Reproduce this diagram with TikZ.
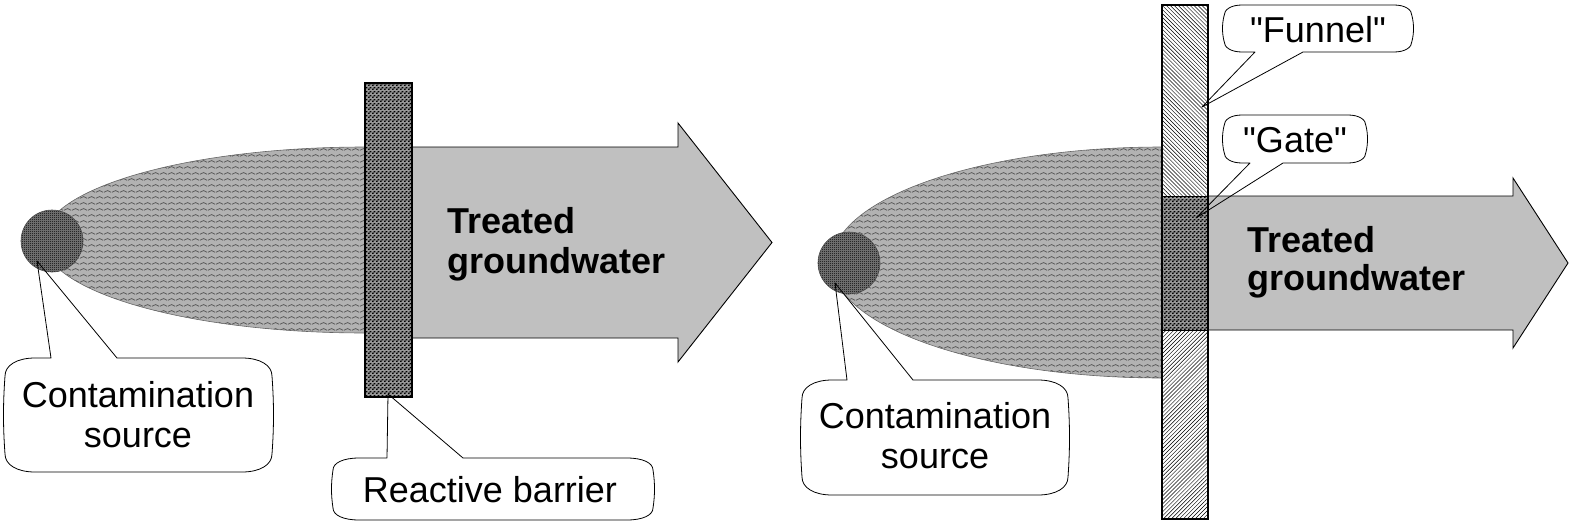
\documentclass[tikz,border=0pt]{standalone}
\usepackage{fontspec}
\setmainfont{Liberation Sans}[Ligatures=TeXOff]
\usetikzlibrary{patterns,patterns.meta}

\definecolor{silver}{RGB}{192,192,192}
\definecolor{plumebg}{RGB}{178,178,178}
\definecolor{plumefg}{RGB}{92,92,92}
\definecolor{barbg}{RGB}{150,150,150}
\definecolor{srcbg}{RGB}{112,112,112}

\pgfdeclarepattern{
  name=wavy, type=uncolored,
  bottom left={\pgfpointorigin}, top right={\pgfpoint{8pt}{6pt}},
  tile size={\pgfpoint{8pt}{6pt}},
  code={\pgfsetlinewidth{0.9pt}
    \pgfpathmoveto{\pgfpoint{0pt}{2pt}}
    \pgfpathlineto{\pgfpoint{4pt}{4pt}}
    \pgfpathlineto{\pgfpoint{8pt}{2pt}}
    \pgfusepath{stroke}}}
\pgfdeclarepattern{
  name=bdots, type=uncolored,
  bottom left={\pgfpointorigin}, top right={\pgfpoint{4pt}{4pt}},
  tile size={\pgfpoint{4pt}{4pt}},
  code={\pgfpathrectangle{\pgfpointorigin}{\pgfpoint{2pt}{1.6pt}}
    \pgfpathrectangle{\pgfpoint{2pt}{2pt}}{\pgfpoint{2pt}{1.6pt}}
    \pgfusepath{fill}}}
\pgfdeclarepattern{
  name=checker, type=uncolored,
  bottom left={\pgfpointorigin}, top right={\pgfpoint{2pt}{2pt}},
  tile size={\pgfpoint{2pt}{2pt}},
  code={\pgfpathrectangle{\pgfpointorigin}{\pgfpoint{1pt}{1pt}}
    \pgfpathrectangle{\pgfpoint{1pt}{1pt}}{\pgfpoint{0.6pt}{0.6pt}}
    \pgfusepath{fill}}}

\tikzset{
  flowarrow/.style={draw=black, line width=0.9pt, fill=silver},
  plume/.style={preaction={fill=plumebg}, pattern=wavy, pattern color=plumefg},
  plumeedge/.style={draw=black!60, line width=0.6pt},
  barrier/.style={preaction={fill=barbg}, pattern=bdots, pattern color=black},
  srcdisk/.style={preaction={fill=srcbg}, pattern=checker, pattern color=black},
  funnelup/.style={preaction={fill=white}, pattern={Lines[angle=-45,distance=2.8pt,line width=0.45pt]}, pattern color=black},
  funneldn/.style={preaction={fill=white}, pattern={Lines[angle=45,distance=2.8pt,line width=0.45pt]}, pattern color=black},
  calloutline/.style={draw=black, line width=0.8pt, line join=round},
  lbl/.style={inner sep=0pt, anchor=base, font=\fontsize{36}{40}\selectfont},
  boldlbl/.style={inner sep=0pt, anchor=base west, font=\fontsize{36}{40}\selectfont\bfseries},
}

% pointer on the top edge
% #1 x0, #2 y0, #3 x1, #4 y1, #5 base a, #6 base b, #7 tip, #8 rx, #9 ry
\newcommand\callshape[9]{%
  \draw[calloutline] (#5,#2) -- (#7) -- (#6,#2) -- ({#3-#8},#2)
    .. controls ({#3-0.4*#8},#2) and (#3,{#2+0.4*#9}) .. (#3,{#2+#9})
    .. controls ({#3+2},{#2+0.4*(#4-#2)}) and ({#3+2},{#4-0.4*(#4-#2)}) .. (#3,{#4-#9})
    .. controls (#3,{#4-0.4*#9}) and ({#3-0.4*#8},#4) .. ({#3-#8},#4)
    -- ({#1+#8},#4)
    .. controls ({#1+0.4*#8},#4) and (#1,{#4-0.4*#9}) .. (#1,{#4-#9})
    .. controls ({#1-2},{#4-0.4*(#4-#2)}) and ({#1-2},{#2+0.4*(#4-#2)}) .. (#1,{#2+#9})
    .. controls (#1,{#2+0.4*#9}) and ({#1+0.4*#8},#2) .. ({#1+#8},#2)
    -- cycle;}
% pointer on the bottom edge
\newcommand\callshapebot[9]{%
  \draw[calloutline] (#6,#4) -- (#7) -- (#5,#4) -- ({#1+#8},#4)
    .. controls ({#1+0.4*#8},#4) and (#1,{#4-0.4*#9}) .. (#1,{#4-#9})
    .. controls ({#1-2},{#4-0.4*(#4-#2)}) and ({#1-2},{#2+0.4*(#4-#2)}) .. (#1,{#2+#9})
    .. controls (#1,{#2+0.4*#9}) and ({#1+0.4*#8},#2) .. ({#1+#8},#2)
    -- ({#3-#8},#2)
    .. controls ({#3-0.4*#8},#2) and (#3,{#2+0.4*#9}) .. (#3,{#2+#9})
    .. controls ({#3+2},{#2+0.4*(#4-#2)}) and ({#3+2},{#4-0.4*(#4-#2)}) .. (#3,{#4-#9})
    .. controls (#3,{#4-0.4*#9}) and ({#3-0.4*#8},#4) .. ({#3-#8},#4)
    -- cycle;}

\begin{document}
\begin{tikzpicture}[x=1pt,y=-1pt]
\useasboundingbox (0,0) rectangle (1576,530);

% ================= LEFT: reactive barrier =================
\draw[flowarrow] (412,147) -- (678,147) -- (678,123) -- (772,242.5)
  -- (678,362) -- (678,338) -- (412,338) -- cycle;
\begin{scope}
  \clip (0,0) rectangle (366,530);
  \path[plume] (365,240) ellipse [x radius=322, y radius=93];
  \draw[plumeedge] (365,240) ellipse [x radius=322, y radius=93];
\end{scope}
\draw[barrier, draw=black, line width=1.3pt] (365,83) rectangle (412,397);
\path[srcdisk] (52,241) circle [radius=31];
\draw[black!70, line width=0.6pt] (52,241) circle [radius=31];

\coordinate (tipA) at (37,261);
\coordinate (tipB) at (388,394);
\callshape{5}{358}{272}{472}{51}{117}{tipA}{30}{18}
\callshape{333}{458}{653}{520}{387}{463}{tipB}{26}{12}

\node[boldlbl] (tl1) at (447,233) {Treated};
\node[boldlbl] (tl2) at (447,273) {groundwater};
\node[lbl] (cs1) at (138,407) {Contamination};
\node[lbl] (cs2) at (138,447) {source};
\node[lbl] (rb) at (490,502) {Reactive barrier};

% ================= RIGHT: funnel and gate =================
\begin{scope}
  \clip (700,0) rectangle (1163,530);
  \path[plume] (1162,262.5) ellipse [x radius=330, y radius=115.5];
  \draw[plumeedge] (1162,262.5) ellipse [x radius=330, y radius=115.5];
\end{scope}
\draw[flowarrow] (1208,196) -- (1513,196) -- (1513,178) -- (1568,263)
  -- (1513,348) -- (1513,330) -- (1208,330) -- cycle;
\path[funnelup] (1162,5) rectangle (1208,196);
\path[funneldn] (1162,330) rectangle (1208,519);
\path[barrier] (1162,196) rectangle (1208,330);
\draw[black, line width=0.9pt] (1162,196) -- (1208,196) (1162,330) -- (1208,330);
\draw[black, line width=2pt] (1162,5) rectangle (1208,519);
\path[srcdisk] (849,263) circle [radius=31];
\draw[black!70, line width=0.6pt] (849,263) circle [radius=31];

\coordinate (tipC) at (835,283);
\coordinate (tipF) at (1202,107);
\coordinate (tipG) at (1196,218);
\callshape{802}{380}{1068}{495}{847}{913}{tipC}{30}{18}
\callshapebot{1224}{5}{1412}{52}{1255}{1303}{tipF}{18}{11}
\callshapebot{1224}{115}{1366}{163}{1250}{1283}{tipG}{18}{11}

\node[boldlbl] (tr1) at (1247,252) {Treated};
\node[boldlbl] (tr2) at (1247,290) {groundwater};
\node[lbl] (cs3) at (935,428) {Contamination};
\node[lbl] (cs4) at (935,468) {source};
\node[lbl] (fn) at (1318,42) {"Funnel"};
\node[lbl] (gt) at (1295,152) {"Gate"};
\end{tikzpicture}
\end{document}
